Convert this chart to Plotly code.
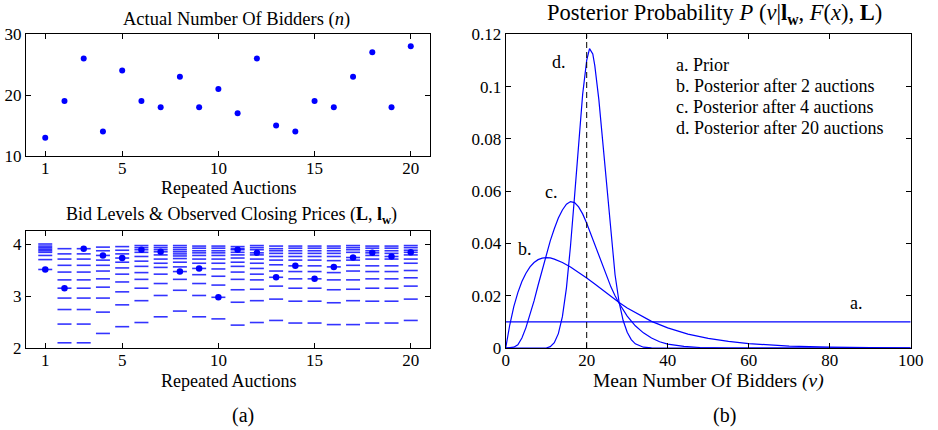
import plotly.graph_objects as go

# ---------------- data ----------------
auctions = list(range(1, 21))
num_bidders = [13, 19, 26, 14, 24, 19, 18, 23, 18, 21, 17, 26, 15, 14, 19, 18, 23, 27, 18, 28]
closing_prices = [3.51, 3.15, 3.91, 3.78, 3.73, 3.89, 3.85, 3.47, 3.53, 2.975,
                  3.89, 3.83, 3.36, 3.58, 3.33, 3.56, 3.74, 3.83, 3.76, 3.84]
bid_levels = [
    [4.00, 3.96, 3.93, 3.90, 3.87, 3.84, 3.78, 3.70, 3.51],
    [3.91, 3.81, 3.71, 3.59, 3.46, 3.31, 3.15, 2.96, 2.74, 2.46, 2.10],
    [3.91, 3.81, 3.71, 3.59, 3.46, 3.31, 3.15, 2.96, 2.74, 2.46, 2.10],
    [3.94, 3.87, 3.78, 3.69, 3.59, 3.48, 3.33, 3.17, 2.96, 2.69, 2.28],
    [3.95, 3.88, 3.81, 3.73, 3.65, 3.54, 3.42, 3.27, 3.08, 2.83, 2.41],
    [3.97, 3.93, 3.89, 3.84, 3.76, 3.67, 3.57, 3.45, 3.32, 3.15, 2.91, 2.49],
    [3.97, 3.93, 3.89, 3.85, 3.79, 3.71, 3.63, 3.55, 3.42, 3.24, 3.01, 2.60],
    [3.97, 3.93, 3.89, 3.85, 3.81, 3.77, 3.72, 3.65, 3.56, 3.47, 3.32, 3.11, 2.71],
    [3.96, 3.92, 3.87, 3.83, 3.78, 3.71, 3.63, 3.53, 3.41, 3.24, 3.01, 2.60],
    [3.96, 3.92, 3.87, 3.83, 3.78, 3.71, 3.63, 3.52, 3.38, 3.21, 2.975, 2.56],
    [3.95, 3.91, 3.89, 3.84, 3.79, 3.73, 3.65, 3.57, 3.46, 3.32, 3.12, 2.88, 2.44],
    [3.97, 3.93, 3.89, 3.83, 3.79, 3.71, 3.63, 3.53, 3.42, 3.31, 3.13, 2.91, 2.49],
    [3.96, 3.91, 3.87, 3.82, 3.76, 3.69, 3.60, 3.48, 3.36, 3.19, 2.94, 2.53],
    [3.96, 3.92, 3.87, 3.82, 3.76, 3.69, 3.58, 3.47, 3.33, 3.15, 2.90, 2.48],
    [3.96, 3.92, 3.87, 3.82, 3.76, 3.69, 3.58, 3.47, 3.33, 3.15, 2.90, 2.48],
    [3.96, 3.92, 3.87, 3.82, 3.76, 3.68, 3.56, 3.45, 3.31, 3.12, 2.87, 2.45],
    [3.97, 3.93, 3.89, 3.84, 3.74, 3.69, 3.59, 3.48, 3.31, 3.13, 2.91, 2.45],
    [3.96, 3.92, 3.87, 3.83, 3.78, 3.71, 3.58, 3.47, 3.33, 3.15, 2.90, 2.48],
    [3.96, 3.92, 3.87, 3.82, 3.76, 3.71, 3.58, 3.47, 3.33, 3.15, 2.90, 2.48],
    [3.97, 3.93, 3.88, 3.84, 3.79, 3.71, 3.63, 3.49, 3.35, 3.19, 2.94, 2.53],
]

# posterior curves
v_a = [0, 100]
p_a = [0.01, 0.01]
v_b = [0, 1, 2, 3, 4, 5, 6, 7, 8, 9, 10, 11, 12, 14, 16, 18, 20, 22, 24, 26, 28, 30,
       33, 36, 40, 45, 50, 55, 60, 65, 70, 80, 90, 100]
p_b = [0, 0.0088, 0.0158, 0.0212, 0.0254, 0.0286, 0.0310, 0.0327, 0.0338, 0.0344, 0.0346,
       0.0345, 0.0340, 0.0327, 0.0310, 0.0290, 0.0268, 0.0245, 0.0221, 0.0197, 0.0174, 0.0153,
       0.0126, 0.0102, 0.0077, 0.0053, 0.0037, 0.0025, 0.0017, 0.0011, 0.0007, 0.0003, 0.0001, 0.0]
v_c = [0, 2, 3, 4, 5, 6, 7, 8, 9, 10, 11, 12, 13, 14, 15, 16, 17, 18, 19, 20, 21, 22, 23,
       24, 25, 26, 27, 28, 30, 32, 34, 36, 38, 40, 44, 48, 55, 100]
p_c = [0, 0.0003, 0.0012, 0.0038, 0.0078, 0.0125, 0.0180, 0.0240, 0.0300, 0.0358, 0.0410,
       0.0456, 0.0497, 0.0528, 0.0550, 0.0560, 0.0556, 0.0540, 0.0513, 0.0477, 0.0437, 0.0395,
       0.0352, 0.0310, 0.0270, 0.0233, 0.0200, 0.0171, 0.0122, 0.0085, 0.0058, 0.0038, 0.0024,
       0.0015, 0.0006, 0.0002, 0.0, 0]
v_d = [0, 10, 11, 12, 13, 14, 15, 16, 17, 18, 19, 20, 20.7, 21.5, 22, 23, 24, 25, 26, 27,
       28, 29, 30, 31, 32, 33, 34, 36, 38, 100]
p_d = [0, 0, 0.0005, 0.002, 0.0055, 0.012, 0.023, 0.039, 0.058, 0.078, 0.097, 0.110, 0.1145,
       0.1125, 0.108, 0.095, 0.078, 0.059, 0.042, 0.028, 0.0175, 0.0105, 0.006, 0.0032, 0.0016,
       0.0008, 0.0003, 0.0001, 0, 0]
true_mean = 20

legend_lines = ["a. Prior", "b. Posterior after 2 auctions",
                "c. Posterior after 4 auctions", "d. Posterior after 20 auctions"]

# ---------------- figure ----------------
W, H = 938, 430
BLUE = "#0000ff"
FONT = "Liberation Serif"


def px(x):
    return x / W


def py(y):
    return 1 - y / H


fig = go.Figure()

# top-left: actual number of bidders
fig.add_trace(go.Scatter(x=auctions, y=num_bidders, mode="markers",
                         marker=dict(color=BLUE, size=6), xaxis="x", yaxis="y",
                         showlegend=False))

# bottom-left: bid levels (dashes) and closing prices
dash_x, dash_y = [], []
for a, levels in zip(auctions, bid_levels):
    for lv in levels:
        dash_x.append(a)
        dash_y.append(lv)
fig.add_trace(go.Scatter(x=dash_x, y=dash_y, mode="markers",
                         marker=dict(symbol="line-ew", size=10,
                                     line=dict(color="rgba(0,0,255,0.8)", width=1.6)),
                         xaxis="x2", yaxis="y2", showlegend=False))
fig.add_trace(go.Scatter(x=auctions, y=closing_prices, mode="markers",
                         marker=dict(color=BLUE, size=6.5), xaxis="x2", yaxis="y2",
                         showlegend=False))

# right: posterior curves
for vx, vy in [(v_a, p_a), (v_b, p_b), (v_c, p_c), (v_d, p_d)]:
    fig.add_trace(go.Scatter(x=vx, y=vy, mode="lines", line=dict(color=BLUE, width=1.2),
                             xaxis="x3", yaxis="y3", showlegend=False))
fig.add_trace(go.Scatter(x=[true_mean, true_mean], y=[0, 0.12], mode="lines",
                         line=dict(color="black", width=1, dash="6px,4px"),
                         xaxis="x3", yaxis="y3", showlegend=False))

axis_style = dict(showline=True, linecolor="black", linewidth=1, mirror="ticks",
                  ticks="inside", ticklen=5, tickcolor="black", showgrid=False,
                  zeroline=False, automargin=False,
                  tickfont=dict(family=FONT, size=17, color="black"))
x_style = dict(axis_style, ticklabelstandoff=-3)

L0, L1 = px(26), px(430)
R0, R1 = px(505.7), px(910.7)

fig.update_layout(
    width=W, height=H, margin=dict(l=0, r=0, t=0, b=0),
    paper_bgcolor="white", plot_bgcolor="white",
    font=dict(family=FONT, color="black"),
    xaxis=dict(domain=[L0, L1], range=[0, 21], tickvals=[1, 5, 10, 15, 20], anchor="y",
               **x_style),
    yaxis=dict(domain=[py(156), py(34)], range=[10, 30], tickvals=[10, 20, 30], anchor="x",
               **axis_style),
    xaxis2=dict(domain=[L0, L1], range=[0, 21], tickvals=[1, 5, 10, 15, 20], anchor="y2",
                **x_style),
    yaxis2=dict(domain=[py(348), py(231)], range=[2, 4.25], tickvals=[2, 3, 4], anchor="x2",
                **axis_style),
    xaxis3=dict(domain=[R0, R1], range=[0, 100], tickvals=[0, 20, 40, 60, 80, 100],
                anchor="y3", **x_style),
    yaxis3=dict(domain=[py(348), py(34.3)], range=[0, 0.12],
                tickvals=[0, 0.02, 0.04, 0.06, 0.08, 0.1, 0.12], anchor="x3", **axis_style),
)

ann = []


def paper_text(text, x, y, size, xanchor="center"):
    ann.append(dict(text=text, x=px(x), y=py(y), xref="paper", yref="paper",
                    xanchor=xanchor, yanchor="middle", showarrow=False,
                    font=dict(family=FONT, size=size, color="black")))


paper_text("Actual Number Of Bidders (<i>n</i>)", 237, 19, 18.5)
paper_text("Repeated Auctions", 228, 188, 18)
paper_text("Bid Levels &amp; Observed Closing Prices (<b>L</b>, <b>l</b><sub><b>w</b></sub>)",
           231, 215, 18)
paper_text("Repeated Auctions", 228, 381, 18)
paper_text("(a)", 243, 415, 20)
paper_text("Posterior Probability <i>P</i> (<i>ν</i>|<b>l</b><sub><b>w</b></sub>, <i>F</i>(<i>x</i>), <b>L</b>)",
           714, 14, 22.5)
paper_text("Mean Number Of Bidders <i>(ν)</i>", 708, 381, 19.5)
paper_text("(b)", 724, 415, 20)

for lab, vx, vy in [("a.", 86.7, 0.0171), ("b.", 4.8, 0.038), ("c.", 11.2, 0.0598),
                    ("d.", 13.2, 0.1095)]:
    ann.append(dict(text=lab, x=vx, y=vy, xref="x3", yref="y3", showarrow=False,
                    xanchor="center", yanchor="middle",
                    font=dict(family=FONT, size=18, color="black")))

for i, line in enumerate(legend_lines):
    ann.append(dict(text=line, x=41.6, y=0.1083 - i * 0.0081, xref="x3", yref="y3",
                    showarrow=False, xanchor="left", yanchor="middle",
                    font=dict(family=FONT, size=18, color="black")))

fig.update_layout(annotations=ann)
fig.write_html("out.html",
               config={"displayModeBar": False},
               post_script="document.body.style.margin='0';"
                           "document.documentElement.style.overflow='hidden';")
